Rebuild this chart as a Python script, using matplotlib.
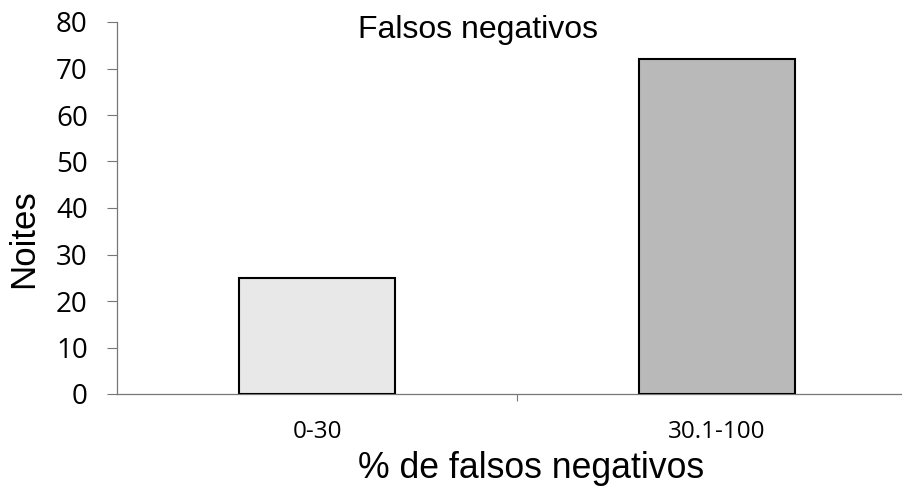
import matplotlib
matplotlib.use("Agg")
import matplotlib.pyplot as plt

categories = ["0-30", "30.1-100"]
values = [25, 72]
colors = ["#e8e8e8", "#b9b9b9"]
yticks = [0, 10, 20, 30, 40, 50, 60, 70, 80]

W, H = 902, 492
fig = plt.figure(figsize=(W / 100, H / 100), dpi=100)
ax = fig.add_axes([117 / W, 1 - 394 / H, 800 / W, 372 / H])

x = list(range(len(categories)))
ax.bar(x, values, width=0.39, color=colors, edgecolor="black", linewidth=1.5, zorder=3)
ax.set_xlim(-0.5, 1.5)
ax.set_ylim(0, 80)
ax.set_yticks(yticks)
ax.set_yticklabels([str(v) for v in yticks], fontsize=20, family="Open Sans")
ax.set_xticks(x)
ax.set_xticklabels(categories, fontsize=17.5, family="Open Sans")
ax.tick_params(axis="x", length=0, pad=19)
ax.tick_params(axis="y", length=7, width=0.8, color="#777777", pad=14)
ax.set_xticks([0.5], minor=True)
ax.tick_params(axis="x", which="minor", length=5, width=0.8, color="#777777")

for s in ["top", "right"]:
    ax.spines[s].set_visible(False)
for s in ["left", "bottom"]:
    ax.spines[s].set_color("#777777")
    ax.spines[s].set_linewidth(0.9)

fig.text(478 / W, 1 - 30 / H, "Falsos negativos", ha="center", va="center",
         fontsize=23, family="Liberation Sans")
fig.text(24 / W, 1 - 239 / H, "Noites", ha="center", va="center", rotation=90,
         fontsize=25, family="Liberation Sans")
fig.text(531 / W, 1 - 468 / H, "% de falsos negativos", ha="center", va="center",
         fontsize=25.7, family="Liberation Sans")

fig.savefig("out.png", dpi=100)
